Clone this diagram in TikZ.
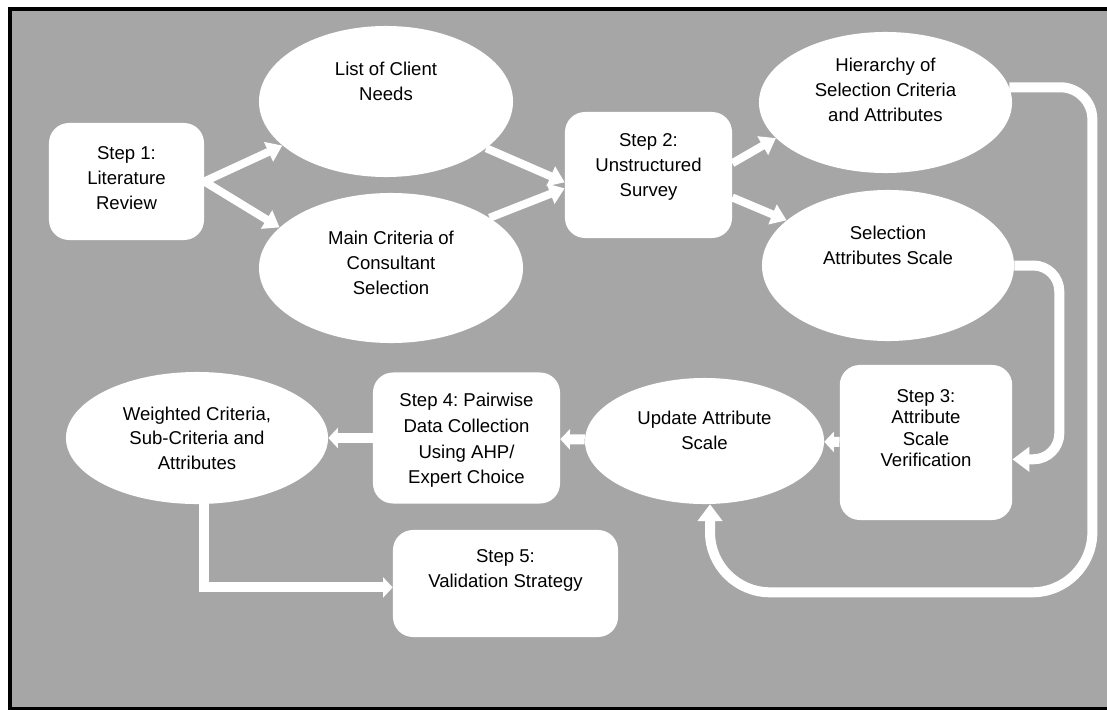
\documentclass[tikz,border=0pt]{standalone}
\usepackage{fontspec}
\setmainfont{Liberation Sans}
\usetikzlibrary{arrows.meta, shapes.geometric}
\definecolor{panelgrey}{HTML}{A6A6A6}
\tikzset{
  txt/.style={align=center, text=black, font=\fontsize{13.2}{17.8}\selectfont\frenchspacing},
  stepbox/.style={rectangle, rounded corners=0.5cm, fill=white, inner sep=0pt},
  oval/.style={ellipse, fill=white, inner sep=0pt},
  flow/.style={draw=white, line width=0.2cm, -{Triangle[length=0.38cm, width=0.52cm]}},
  hflow/.style={draw=white, line width=0.25cm, -{Triangle[length=0.24cm, width=0.5cm]}},
  loopflow/.style={draw=white, line width=0.25cm, rounded corners=0.8cm,
    -{Triangle[length=0.42cm, width=0.6cm]}},
}

\begin{document}
\begin{tikzpicture}[x=0.025cm, y=-0.025cm]
\useasboundingbox (0,0) rectangle (1107,710);
\fill[white] (0,0) rectangle (1107,710);
\fill[panelgrey] (10,9) rectangle (1115,709);
\draw[black, line width=0.1cm] (10,9) rectangle (1115,709);

\node[stepbox, minimum width=3.875cm, minimum height=2.925cm,
  label={[txt, yshift=0.09cm]center:{Step 1:\\Literature\\Review}}] (step1) at (126.5,181.5) {};
\node[oval, minimum width=6.35cm, minimum height=3.775cm,
  label={[txt, yshift=0.5cm]center:{List of Client\\Needs}}] (needs) at (386,101.5) {};
\node[oval, minimum width=6.6cm, minimum height=3.75cm,
  label={[txt, yshift=0.14cm]center:{Main Criteria of\\Consultant\\Selection}}] (main) at (391,268) {};
\node[stepbox, minimum width=4.175cm, minimum height=3.15cm,
  label={[txt, yshift=0.19cm]center:{Step 2:\\Unstructured\\Survey}}] (step2) at (648.5,175) {};
\node[oval, minimum width=6.325cm, minimum height=3.525cm,
  label={[txt, yshift=0.325cm]center:{Hierarchy of\\Selection Criteria\\and Attributes}}] (hier) at (885.5,102.5) {};
\node[oval, minimum width=6.3cm, minimum height=3.775cm,
  label={[txt, yshift=0.51cm]center:{Selection\\Attributes Scale}}] (scale) at (888,265.5) {};
\node[stepbox, minimum width=4.31cm, minimum height=3.875cm,
  label={[txt, font=\fontsize{13.2}{15}\selectfont, yshift=0.36cm]center:{Step 3:\\Attribute\\Scale\\Verification}}] (step3) at (926,442.5) {};
\node[oval, minimum width=5.975cm, minimum height=3.15cm,
  label={[txt, yshift=0.275cm]center:{Update Attribute\\Scale}}] (update) at (704.5,441) {};
\node[stepbox, minimum width=4.675cm, minimum height=3.275cm,
  label={[txt, font=\fontsize{13.2}{18.3}\selectfont\frenchspacing, yshift=-0.06cm]center:{Step 4: Pairwise\\Data Collection\\Using AHP/\\Expert Choice}}] (step4) at (466.5,438) {};
\node[oval, minimum width=6.55cm, minimum height=3.3cm,
  label={[txt, font=\fontsize{13.2}{17.4}\selectfont]center:{Weighted Criteria,\\Sub-Criteria and\\Attributes}}] (weighted) at (197,438) {};
\node[stepbox, minimum width=5.625cm, minimum height=2.675cm,
  label={[txt, yshift=0.325cm]center:{Step 5:\\Validation Strategy}}] (step5) at (505.5,583.5) {};

\draw[flow] (step1.east) -- (needs.203);
\draw[flow] (step1.east) -- (main.160);
\draw[flow] (needs.-25) -- (step2.185);
\draw[flow] (main.27) -- (step2.189);
\draw[flow] (step2.8) -- (hier.198);
\draw[flow] (step2.-15) -- (scale.156);
\draw[loopflow] (hier.7) -- ++(83,0) [rounded corners=1.5cm] -- ++(0,505) -| (update.-85);
\draw[loopflow, rounded corners=0.65cm] (scale.east) -- ++(45,0) |- (step3.-11.5);
\draw[hflow] (step3) -- (update);
\draw[hflow] (update) -- (step4);
\draw[hflow] (step4) -- (weighted);
\draw[hflow] (weighted.-84) |- (step5.182);
\end{tikzpicture}
\end{document}
